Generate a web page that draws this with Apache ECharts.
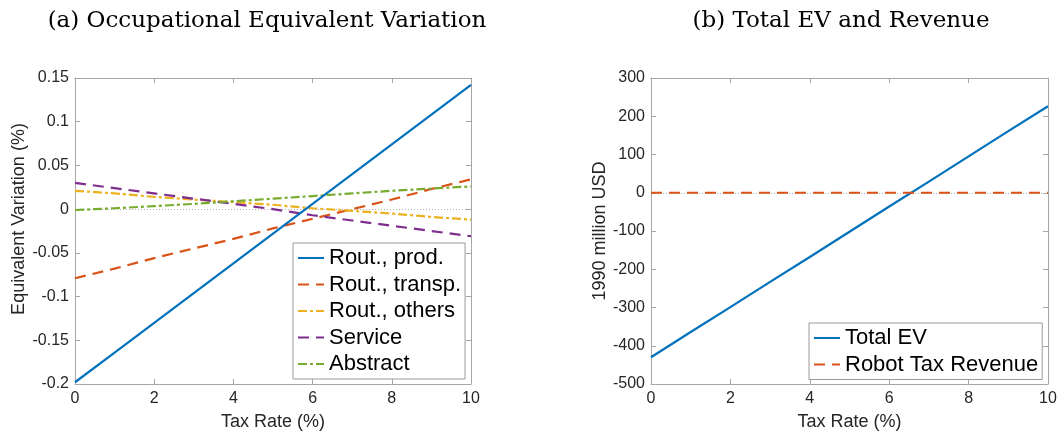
<!DOCTYPE html>
<html>
<head>
<meta charset="utf-8">
<script src="https://cdn.jsdelivr.net/npm/echarts@6/dist/echarts.min.js"></script>
<style>
html,body{margin:0;padding:0;background:#fff;}
#chart{width:1060px;height:436px;}
</style>
</head>
<body>
<div id="chart"></div>
<script>
// ---- Data ----
const taxRate = [0, 1, 2, 3, 4, 5, 6, 7, 8, 9, 10];
const routProd = [-0.198, -0.164, -0.130, -0.096, -0.062, -0.028, 0.006, 0.040, 0.074, 0.108, 0.142];
const routTransp = [-0.079, -0.068, -0.056, -0.045, -0.034, -0.022, -0.011, 0.000, 0.011, 0.023, 0.034];
const routOthers = [0.021, 0.018, 0.014, 0.011, 0.008, 0.005, 0.001, -0.002, -0.005, -0.009, -0.012];
const service = [0.030, 0.024, 0.018, 0.012, 0.006, 0.000, -0.007, -0.013, -0.019, -0.025, -0.031];
const abstractOcc = [-0.001, 0.001, 0.0035, 0.006, 0.009, 0.012, 0.015, 0.018, 0.021, 0.0235, 0.026];
const totalEV = [-430, -364, -299, -233, -168, -102, -36, 29, 95, 161, 226];
const robotTaxRevenue = [0, 0, 0, 0, 0, 0, 0, 0, 0, 0, 0];

const leftNames = ['Rout., prod.', 'Rout., transp.', 'Rout., others', 'Service', 'Abstract'];
const rightNames = ['Total EV', 'Robot Tax Revenue'];

const titleA = '(a) Occupational Equivalent Variation';
const titleB = '(b) Total EV and Revenue';
const xName = 'Tax Rate (%)';
const yNameA = 'Equivalent Variation (%)';
const yNameB = '1990 million USD';

// ---- Styling ----
const C = ['#0072BD', '#D95319', '#EDB120', '#7E2F8E', '#77AC30'];
const sans = 'Liberation Sans, Arial, Helvetica, sans-serif';
const serif = 'DejaVu Serif, Liberation Serif, serif';
const axisGray = '#a6a6a6';
const textCol = '#262626';

function pairs(ys) { return taxRate.map((x, i) => [x, ys[i]]); }

function mainX(grid) {
  return {
    type: 'value', gridIndex: grid, min: 0, max: 10, interval: 2, position: 'bottom',
    name: xName, nameLocation: 'middle', nameGap: 29,
    nameTextStyle: { fontFamily: sans, fontSize: 18, color: textCol },
    axisLine: { show: true, onZero: false, lineStyle: { color: axisGray, width: 1 } },
    axisTick: { show: true, inside: true, length: 5, lineStyle: { color: axisGray } },
    axisLabel: { fontFamily: sans, fontSize: 16, color: textCol, margin: 7 },
    splitLine: { show: false }
  };
}
function mirrorX(grid) {
  return {
    type: 'value', gridIndex: grid, min: 0, max: 10, interval: 2, position: 'top',
    axisLine: { show: true, onZero: false, lineStyle: { color: axisGray, width: 1 } },
    axisTick: { show: true, inside: true, length: 5, lineStyle: { color: axisGray } },
    axisLabel: { show: false }, splitLine: { show: false }
  };
}
function mainY(grid, min, max, interval, name, gap, pad) {
  return {
    type: 'value', gridIndex: grid, min: min, max: max, interval: interval, position: 'left',
    name: name, nameLocation: 'middle', nameGap: gap, nameRotate: 90,
    nameTextStyle: { fontFamily: sans, fontSize: 18, color: textCol, padding: pad },
    axisLine: { show: true, onZero: false, lineStyle: { color: axisGray, width: 1 } },
    axisTick: { show: true, inside: true, length: 5, lineStyle: { color: axisGray } },
    axisLabel: { fontFamily: sans, fontSize: 16, color: textCol, margin: 6 },
    splitLine: { show: false }
  };
}
function mirrorY(grid, min, max, interval) {
  return {
    type: 'value', gridIndex: grid, min: min, max: max, interval: interval, position: 'right',
    axisLine: { show: true, onZero: false, lineStyle: { color: axisGray, width: 1 } },
    axisTick: { show: true, inside: true, length: 5, lineStyle: { color: axisGray } },
    axisLabel: { show: false }, splitLine: { show: false }
  };
}
function lineSeries(name, data, color, dash, xi, yi) {
  return {
    name: name, type: 'line', xAxisIndex: xi, yAxisIndex: yi, data: pairs(data),
    symbol: 'none', showSymbol: false, silent: true,
    lineStyle: { color: color, width: 2.2, type: dash },
    itemStyle: { color: color },
    z: 3
  };
}
function zeroLine() {
  return {
    silent: true, symbol: 'none', label: { show: false },
    lineStyle: { color: '#b0b0b0', width: 1, type: [1, 2] },
    data: [{ yAxis: 0 }], z: 1
  };
}

const dashLong = [11, 7];
const dashDot = [9, 3, 3, 3];

const s0 = lineSeries(leftNames[0], routProd, C[0], 'solid', 0, 0);
const s1 = lineSeries(leftNames[1], routTransp, C[1], dashLong, 0, 0);
const s2 = lineSeries(leftNames[2], routOthers, C[2], dashDot, 0, 0);
const s3 = lineSeries(leftNames[3], service, C[3], dashLong, 0, 0);
const s4 = lineSeries(leftNames[4], abstractOcc, C[4], dashDot, 0, 0);
s0.markLine = zeroLine();
s0.z = 4;
const r0 = lineSeries(rightNames[0], totalEV, C[0], 'solid', 2, 2);
const r1 = lineSeries(rightNames[1], robotTaxRevenue, C[1], dashLong, 2, 2);
r0.markLine = zeroLine();

const legendBase = {
  orient: 'vertical', backgroundColor: '#fff', borderColor: '#9a9a9a', borderWidth: 1,
  borderRadius: 0, itemWidth: 26, itemHeight: 14, itemGap: 4.5,
  itemStyle: { opacity: 0 },
  textStyle: { fontFamily: sans, fontSize: 22, color: '#000', lineHeight: 22 },
  selectedMode: false
};

const option = {
  animation: false,
  backgroundColor: '#fff',
  title: [
    { text: titleA, left: 262, top: 5, textAlign: 'center',
      textStyle: { fontFamily: serif, fontSize: 23, fontWeight: 'normal', color: '#000' } },
    { text: titleB, left: 836, top: 5, textAlign: 'center',
      textStyle: { fontFamily: serif, fontSize: 23, fontWeight: 'normal', color: '#000' } }
  ],
  grid: [
    { left: 75, top: 78, width: 396, height: 307 },
    { left: 651, top: 78, width: 397, height: 309 }
  ],
  legend: [
    Object.assign({}, legendBase, { data: leftNames, left: 293, top: 243, padding: [4, 4, 4, 4] }),
    Object.assign({}, legendBase, { data: rightNames, left: 809, top: 323, padding: [4, 4, 4, 4] })
  ],
  xAxis: [mainX(0), mirrorX(0), mainX(1), mirrorX(1)],
  yAxis: [
    mainY(0, -0.2, 0.15, 0.05, yNameA, 47, [0, 0, 0, 24]),
    mirrorY(0, -0.2, 0.15, 0.05),
    mainY(1, -500, 300, 100, yNameB, 42, [0, 0, 0, 0]),
    mirrorY(1, -500, 300, 100)
  ],
  series: [s0, s1, s2, s3, s4, r0, r1]
};

const chart = echarts.init(document.getElementById('chart'), null, { renderer: 'canvas' });
chart.setOption(option);
</script>
</body>
</html>
